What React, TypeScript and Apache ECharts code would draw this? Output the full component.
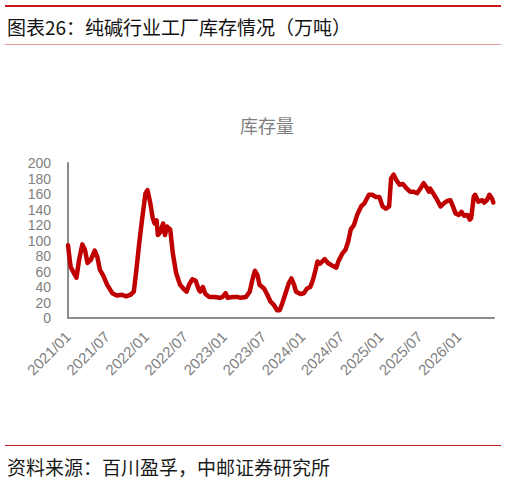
import React, { useEffect, useRef } from "react";
import * as echarts from "echarts";

// months since 2021/01
const months = [
  0, 0.4, 0.9, 1.3, 1.7, 2.2, 2.6, 3.0, 3.5, 4.1, 4.5, 4.9, 5.4, 6.0, 6.8, 7.5, 8.3, 8.9, 9.6,
  10.1, 10.5, 10.9, 11.4, 11.9, 12.2, 12.6, 13.0, 13.3, 13.6, 13.8, 14.2, 14.6, 14.9, 15.2, 15.7,
  16.1, 16.6, 17.2, 17.7, 18.2, 18.6, 19.1, 19.6, 20.1, 20.3, 20.7, 21.1, 21.7, 22.5, 23.3, 23.7,
  24.2, 24.5, 25.3, 26.1, 26.5, 27.3, 27.9, 28.3, 28.7, 29.1, 29.4, 30.1, 30.6, 31.1, 31.6, 32.1,
  32.5, 32.9, 33.4, 33.9, 34.3, 34.7, 35.0, 35.7, 36.2, 36.7, 37.2, 37.6, 38.0, 38.3, 38.7, 39.4,
  39.9, 40.7, 41.2, 41.5, 42.1, 42.6, 43.0, 43.4, 43.9, 44.4, 45.0, 45.5, 46.2, 46.7, 47.3, 47.8,
  48.3, 48.8, 49.3, 49.6, 50.0, 50.4, 50.9, 51.4, 51.9, 52.5, 53.0, 53.6, 54.1, 54.6, 55.0, 55.4,
  55.6, 56.2, 56.7, 57.2, 57.7, 58.2, 58.7, 59.1, 59.5, 60.0, 60.4, 60.8, 61.3, 61.7, 61.9, 62.3,
  62.5, 63.0, 63.6, 63.9, 64.3, 64.7, 65.1, 65.3,
];

// 工厂库存（万吨）
const inventory = [
  94, 66, 58, 52, 75, 95, 88, 71, 75, 87, 79, 62, 55, 43, 32, 29, 30, 28, 30,
  34, 62, 94, 129, 161, 165, 150, 129, 122, 126, 107, 111, 122, 107, 118, 114,
  83, 58, 43, 38, 34, 43, 50, 48, 36, 34, 40, 31, 27, 27, 26, 27,
  32, 26, 27, 27, 26, 27, 34, 49, 61, 55, 43, 38, 30, 21, 17, 10,
  10, 19, 32, 45, 51, 43, 34, 31, 32, 38, 40, 49, 62, 73, 70, 76,
  71, 67, 65, 73, 83, 88, 98, 114, 120, 133, 144, 148, 159, 159, 156, 156,
  144, 141, 144, 180, 185, 178, 172, 173, 168, 163, 163, 161, 167, 174, 169, 163,
  167, 159, 152, 144, 148, 151, 152, 144, 135, 133, 137, 132, 133, 127, 129, 157,
  159, 150, 152, 149, 152, 159, 154, 149,
];

const tickLabels = [
  "2021/01", "2021/07", "2022/01", "2022/07", "2023/01", "2023/07",
  "2024/01", "2024/07", "2025/01", "2025/07", "2026/01",
];

const headerTitle = "图表26：纯碱行业工厂库存情况（万吨）";
const chartTitle = "库存量";
const sourceText = "资料来源：百川盈孚，中邮证券研究所";

export default function App() {
  const ref = useRef<HTMLDivElement>(null);
  useEffect(() => {
    if (!ref.current) return;
    const chart = echarts.init(ref.current, null, { renderer: "svg" });
    const cjk = '"Noto Sans CJK SC", "Noto Sans", sans-serif';
    chart.setOption({
      animation: false,
      backgroundColor: "#ffffff",
      grid: { left: 68, right: 12, top: 163, bottom: 162, containLabel: false },
      xAxis: {
        type: "value",
        min: 0,
        max: 65.4,
        interval: 6,
        splitLine: { show: false },
        axisTick: { show: false },
        axisLine: { show: true, onZero: false, lineStyle: { color: "#8c8c8c", width: 2 } },
        axisLabel: {
          rotate: 45,
          margin: 16,
          hideOverlap: false,
          showMaxLabel: false,
          color: "#7f7f7f",
          fontSize: 15,
          fontFamily: '"Liberation Sans", Arial, sans-serif',
          formatter: (v: number) => {
            const i = Math.round(v / 6);
            return Math.abs(v - i * 6) < 1e-6 && i < tickLabels.length ? tickLabels[i] : "";
          },
        },
      },
      yAxis: {
        type: "value",
        min: 0,
        max: 200,
        interval: 20,
        splitLine: { show: false },
        axisTick: { show: false },
        axisLine: { show: true, lineStyle: { color: "#8c8c8c", width: 2 } },
        axisLabel: {
          margin: 17,
          color: "#7f7f7f",
          fontSize: 14,
          fontFamily: '"Liberation Sans", Arial, sans-serif',
        },
      },
      series: [
        {
          type: "line",
          data: months.map((m, i) => [m, inventory[i]]),
          showSymbol: false,
          symbol: "none",
          lineStyle: { color: "#c00000", width: 4.5, join: "round", cap: "round" },
          z: 3,
        },
      ],
      graphic: [
        { type: "rect", shape: { x: 5, y: 5, width: 496, height: 2 }, style: { fill: "#c8161d" } },
        {
          type: "text",
          x: 7,
          y: 26,
          style: {
            text: headerTitle,
            fill: "#111111",
            fontSize: 19,
            fontFamily: cjk,
            verticalAlign: "middle",
            textAlign: "left",
          },
        },
        { type: "rect", shape: { x: 5, y: 44, width: 496, height: 1 }, style: { fill: "#e29a9a" } },
        {
          type: "text",
          x: 267,
          y: 125,
          style: {
            text: chartTitle,
            fill: "#7f7f7f",
            fontSize: 18,
            fontFamily: cjk,
            verticalAlign: "middle",
            textAlign: "center",
          },
        },
        { type: "rect", shape: { x: 5, y: 445, width: 496, height: 1 }, style: { fill: "#b52025" } },
        {
          type: "text",
          x: 7,
          y: 466,
          style: {
            text: sourceText,
            fill: "#1a1a1a",
            fontSize: 19,
            fontFamily: cjk,
            verticalAlign: "middle",
            textAlign: "left",
          },
        },
      ],
    });
    return () => chart.dispose();
  }, []);
  return (
    <div
      ref={ref}
      style={{ position: "fixed", left: 0, top: 0, width: 506, height: 480, background: "#fff" }}
    />
  );
}
